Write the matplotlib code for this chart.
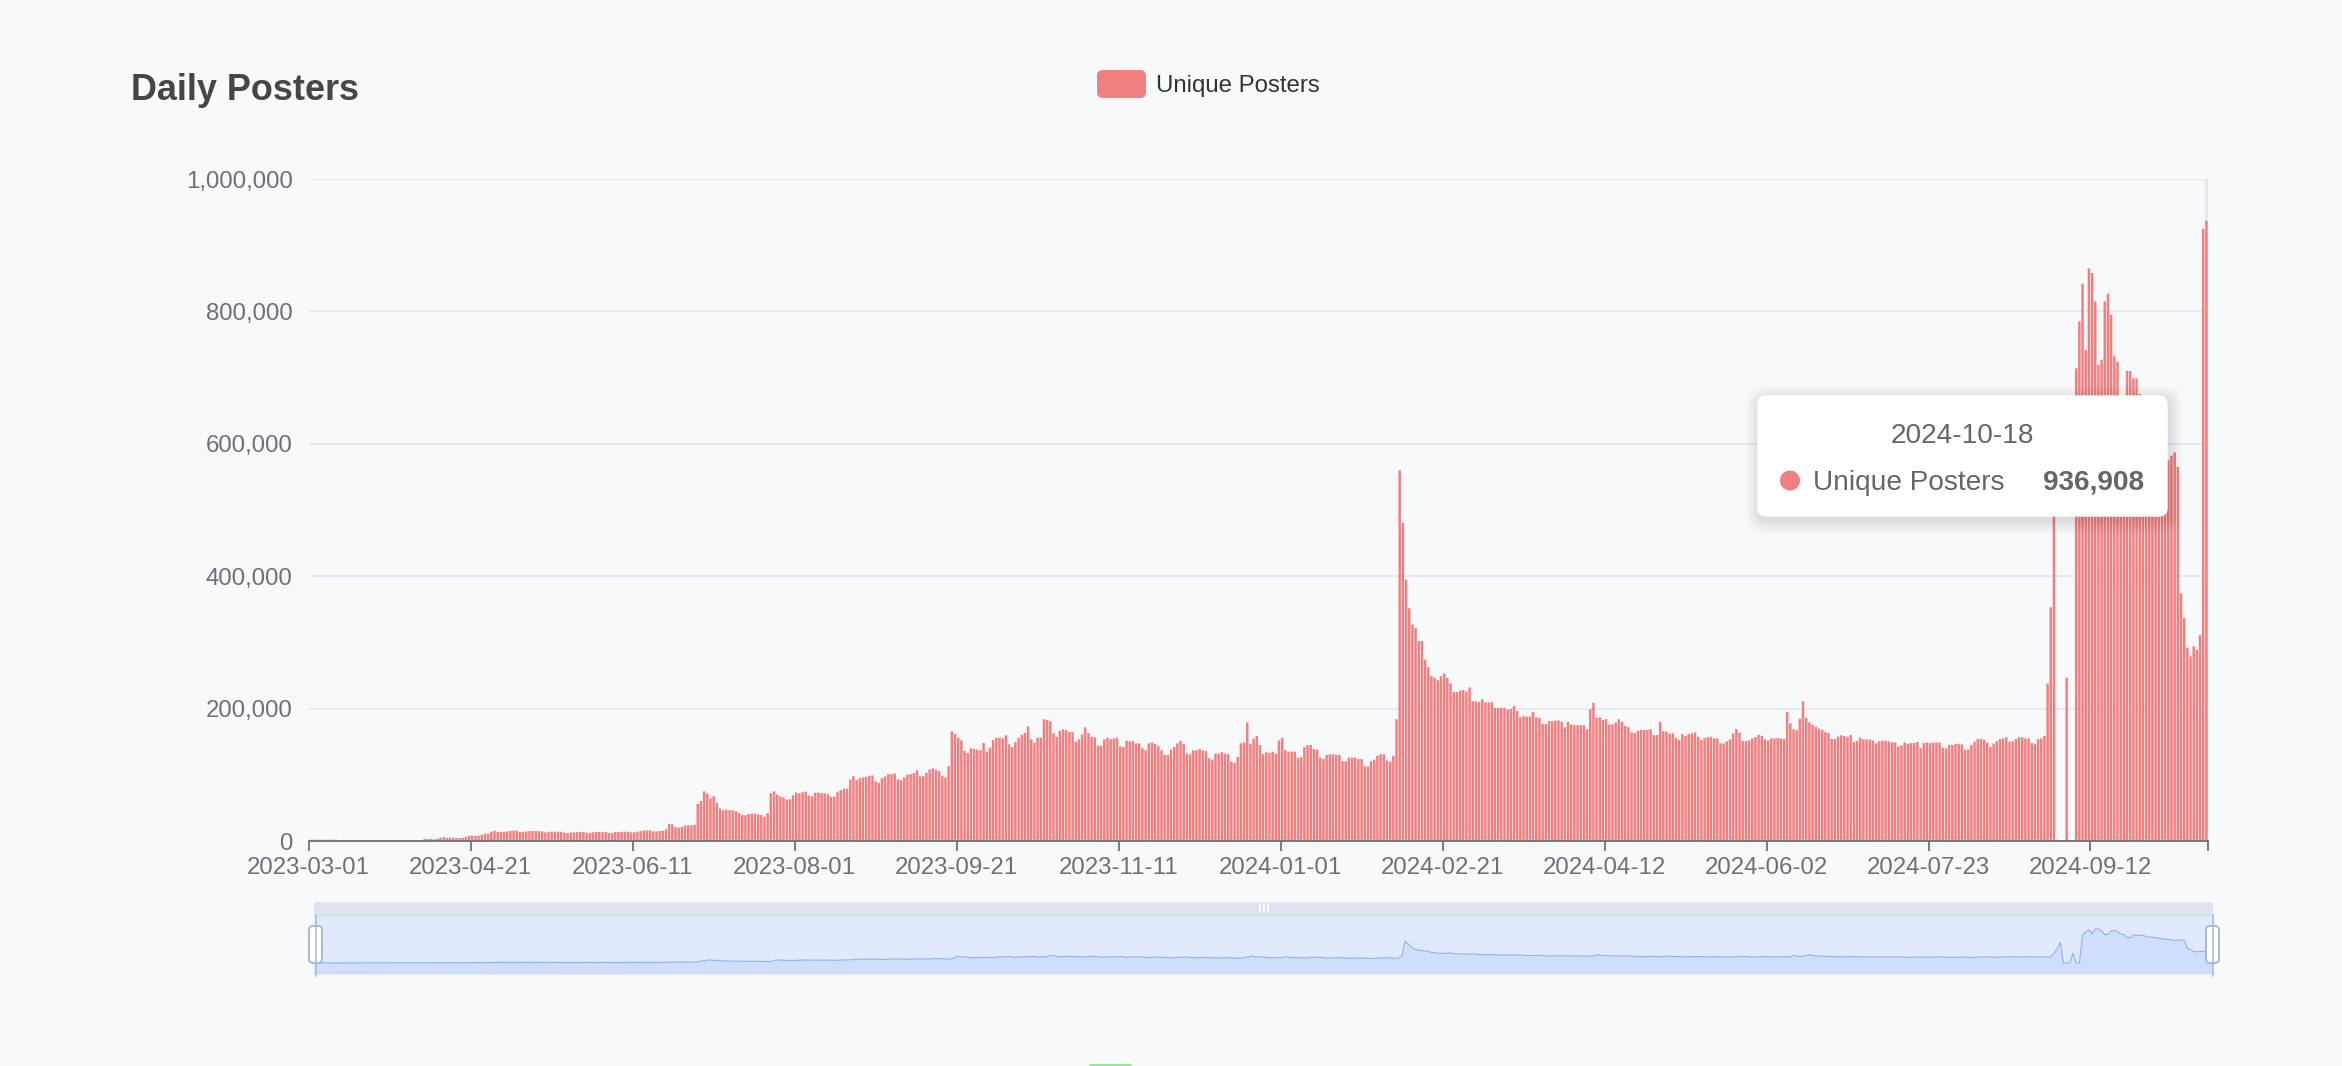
import numpy as np
import pandas as pd
import matplotlib
matplotlib.use('Agg')
import matplotlib.pyplot as plt
from matplotlib.patches import FancyBboxPatch, Rectangle, Circle

plt.rcParams['font.family'] = ['Liberation Sans', 'DejaVu Sans']

# =======================================================
# Data: unique posters per day, 2023-03-01 .. 2024-10-18
# one list per 51-day label interval
posters_0 = [2000, 2000, 2000, 2000, 2000, 2000, 2000, 2000, 2000, 1500,
             1500, 1500, 1500, 1500, 1500, 1500, 1500, 1500, 1500, 1500,
             1500, 1500, 1500, 1500, 1500, 1500, 1500, 1500, 1500, 1500,
             1500, 1500, 1500, 1500, 1500, 1500, 3500, 3000, 3000, 2500,
             3500, 5000, 6000, 5000, 5000, 5000, 4500, 4500, 5000, 6500,
             8000]
posters_1 = [8000, 8000, 8000, 9500, 11000, 11000, 14000, 15600, 14000, 13600,
             14000, 14500, 15000, 15600, 15600, 13600, 13600, 14500, 15000, 15000,
             15000, 15000, 14500, 13000, 14000, 14000, 14000, 14000, 14000, 12500,
             12000, 13000, 13000, 13600, 13600, 13600, 12500, 12500, 13000, 13600,
             13600, 13600, 13600, 12000, 12000, 13600, 13600, 14000, 14000, 14000,
             13000]
posters_2 = [13000, 14000, 15000, 16000, 16000, 16000, 14500, 14500, 15000, 15600,
             17600, 25700, 25000, 21000, 20000, 21500, 23600, 23600, 23600, 24700,
             56000, 60600, 75000, 71700, 64600, 67700, 57600, 49000, 46500, 47500,
             46500, 46500, 45000, 42400, 39400, 38900, 40900, 40900, 41400, 40000,
             39400, 36900, 41900, 72200, 75000, 70000, 67000, 66000, 62600, 63000,
             69000]
posters_3 = [73000, 72000, 73700, 74700, 68700, 67700, 73000, 73000, 72500, 72000,
             71000, 66700, 67000, 73700, 76800, 79000, 79000, 93000, 98000, 92000,
             95000, 96000, 97000, 98500, 99000, 90000, 88000, 95000, 97500, 101000,
             101000, 102000, 93000, 92000, 96000, 100000, 101000, 102500, 107000, 98000,
             98000, 103000, 108000, 109600, 108000, 105500, 98000, 96000, 113000, 165600,
             161600]
posters_4 = [156000, 152000, 136000, 133000, 140000, 139000, 138000, 137000, 148000, 135000,
             141000, 152500, 156000, 156000, 155000, 159600, 146000, 142000, 149500, 155500,
             160600, 163600, 173000, 153500, 148000, 156000, 156000, 184000, 183000, 181000,
             163000, 157500, 166600, 168700, 167700, 164600, 164600, 150000, 153500, 161000,
             171700, 163000, 157500, 156500, 144000, 144000, 153500, 156000, 154000, 155000,
             156000]
posters_5 = [143000, 142000, 151500, 150500, 151000, 147500, 147500, 140000, 137000, 147500,
             149000, 146500, 143400, 137000, 130000, 130000, 138000, 142000, 147500, 151500,
             146500, 132000, 131000, 137000, 137000, 139000, 137000, 136000, 125000, 122700,
             132000, 132000, 134000, 132000, 131000, 120000, 118000, 127000, 147500, 149000,
             179000, 146500, 154500, 158600, 145000, 131000, 134000, 133000, 135000, 132000,
             152000]
posters_6 = [155500, 137000, 135000, 135000, 135000, 125700, 126800, 142000, 145000, 145000,
             139000, 138000, 126000, 123700, 130000, 131000, 131000, 130000, 130000, 120700,
             120700, 126000, 126000, 125700, 123700, 123700, 113000, 112600, 120700, 123000,
             128800, 131000, 131000, 121700, 119700, 128800, 184000, 560000, 480800, 395000,
             351500, 327000, 321700, 302000, 302000, 274000, 262600, 249000, 246400, 243000,
             249000]
posters_7 = [253000, 246000, 238000, 225000, 225000, 227000, 228000, 225700, 232000, 211000,
             211000, 210000, 214000, 209600, 209600, 209600, 201000, 201000, 201000, 201000,
             198500, 199500, 204000, 196400, 187000, 189000, 188000, 188000, 195000, 187000,
             186000, 177000, 176700, 181000, 181000, 182000, 182000, 180000, 172000, 180000,
             176000, 175000, 175000, 175000, 175000, 169000, 199000, 209000, 186000, 187000,
             183000]
posters_8 = [184000, 176000, 176000, 179000, 184000, 180000, 174000, 172000, 164000, 163000,
             166600, 168000, 167700, 167700, 169000, 160000, 160000, 180000, 166000, 165000,
             162000, 162600, 155500, 153000, 161600, 158600, 161600, 162600, 164000, 157600,
             152500, 155500, 157000, 157600, 155000, 155000, 147500, 147500, 150500, 153500,
             162600, 169000, 163600, 151000, 151000, 152000, 155000, 157000, 160600, 159000,
             153500]
posters_9 = [152000, 155000, 155000, 155500, 155000, 154000, 195000, 177800, 168700, 167700,
             184800, 211000, 186000, 179000, 175700, 172700, 169700, 167700, 164600, 163000,
             154000, 154000, 157600, 159600, 158600, 157600, 160000, 149500, 151500, 156000,
             153500, 153500, 153500, 152000, 147500, 150500, 151500, 151500, 150500, 149000,
             149000, 142400, 144400, 149000, 147000, 148000, 148000, 149500, 140000, 148000,
             148700]
posters_10 = [148000, 148700, 148700, 148700, 140700, 140000, 145000, 145000, 146700, 146700,
              146000, 138000, 138000, 145000, 150000, 154000, 154000, 153000, 148700, 142000,
              147000, 151000, 154000, 155000, 156700, 150000, 150700, 154000, 156700, 156700,
              155000, 155000, 148000, 147000, 154000, 155000, 159000, 238000, 353000, 520000,
              2000, 0, 0, 246700, 0, 0, 714000, 785000, 842000, 742000,
              865000]
posters_11 = [858000, 815000, 719000, 727000, 815000, 827000, 795000, 733000, 724000, 650000,
              640000, 710000, 710000, 699000, 699000, 675000, 660000, 650000, 640000, 625000,
              615000, 605000, 595000, 585000, 575000, 582000, 587000, 565000, 374000, 337000,
              292000, 279000, 294000, 289000, 311000, 925000, 936908]

tick_dates = ['2023-03-01', '2023-04-21', '2023-06-11', '2023-08-01', '2023-09-21',
              '2023-11-11', '2024-01-01', '2024-02-21', '2024-04-12', '2024-06-02',
              '2024-07-23', '2024-09-12']
y_ticks = [0, 200000, 400000, 600000, 800000, 1000000]

posters = np.array(posters_0 + posters_1 + posters_2 + posters_3 + posters_4 + posters_5
                   + posters_6 + posters_7 + posters_8 + posters_9 + posters_10 + posters_11)
dates = pd.date_range('2023-03-01', '2024-10-18', freq='D').strftime('%Y-%m-%d').tolist()
assert len(dates) == len(posters)
idx = np.arange(len(posters))

# =======================================================
# Figure in pixel units
W, H = 2342, 1066
bg = '#f8f9fb'
fig = plt.figure(figsize=(W / 100, H / 100), dpi=100, facecolor=bg)

px_l, px_r, px_t, px_b = 308.7, 2208.0, 179.0, 841.0
ax = fig.add_axes([px_l / W, 1 - px_b / H, (px_r - px_l) / W, (px_b - px_t) / H], zorder=1)
ax.set_facecolor('none')
bars = ax.bar(idx, posters, width=0.78, color='#f08080', linewidth=0, zorder=2)
for b in bars:
    b.set_snap(False)
# axis pointer of the hovered day
ax.axvline(idx[-1], color='#e3e7ef', lw=2, zorder=0.8)

ax.set_xlim(-0.5, len(posters) - 0.5)
ax.set_ylim(0, 1000000)
tick_pos = [dates.index(d) - 0.5 for d in tick_dates] + [len(posters) - 0.5]
ax.set_xticks(tick_pos)
ax.set_xticklabels(tick_dates + [''])
ax.set_yticks(y_ticks)
ax.set_yticklabels(['{:,}'.format(v) for v in y_ticks])
ax.tick_params(axis='x', length=7.2, width=1.3, color='#6e7079', pad=4,
               labelsize=17.3, labelcolor='#6e7079')
ax.tick_params(axis='y', length=0, pad=11.5, labelsize=17.3, labelcolor='#6e7079')
ax.yaxis.grid(True, color='#e0e6f1', lw=1.2)
ax.set_axisbelow(True)
for s in ['top', 'right', 'left']:
    ax.spines[s].set_visible(False)
ax.spines['bottom'].set_color('#6e7079')
ax.spines['bottom'].set_linewidth(1.3)
ax.spines['bottom'].set_zorder(3)

# =======================================================
# Data zoom slider with data shadow
sl_l, sl_r, sl_t, sl_b = 314.0, 2213.0, 915.0, 974.0
sax = fig.add_axes([sl_l / W, 1 - sl_b / H, (sl_r - sl_l) / W, (sl_b - sl_t) / H], zorder=1)
sax.set_facecolor('#e1e9fc')
rng = posters.max() - posters.min()
sax.set_xlim(0, len(posters) - 1)
sax.set_ylim(posters.min() - 0.3 * rng, posters.max() + 0.3 * rng)
sax.fill_between(idx, posters.min() - 0.3 * rng, posters, color='#d1defb', lw=0)
sax.plot(idx, posters, color='#8fb0f7', lw=0.8)
sax.set_xticks([])
sax.set_yticks([])
for s in sax.spines.values():
    s.set_visible(False)

# =======================================================
# Overlay in pixel coordinates (title, legend, tooltip, slider handles)
ov = fig.add_axes([0, 0, 1, 1], zorder=10)
ov.set_xlim(0, W)
ov.set_ylim(H, 0)
ov.axis('off')
ov.patch.set_alpha(0)

ov.text(131, 100, 'Daily Posters', fontsize=25.9, fontweight='bold', color='#464646',
        ha='left', va='baseline')

ov.add_patch(FancyBboxPatch((1097, 70), 49, 28, boxstyle='round,pad=0,rounding_size=6',
                            fc='#f08080', ec='none'))
ov.text(1156, 92, 'Unique Posters', fontsize=17.3, color='#333333', ha='left', va='baseline')

# slider top bar and handles
ov.add_patch(FancyBboxPatch((sl_l, 902), sl_r - sl_l, 13, boxstyle='round,pad=0,rounding_size=3',
                            fc='#dde3f0', ec='none'))
ov.plot([sl_l, sl_r], [915, 915], color='#d2dbee', lw=1)
for gx in [1260, 1264, 1268]:
    ov.plot([gx, gx], [905, 911], color='#ffffff', lw=1.2)
for hx in [315.5, 2212.5]:
    ov.plot([hx, hx], [915, 976], color='#acb8d1', lw=1.1)
    ov.add_patch(FancyBboxPatch((hx - 6.5, 926), 13, 37, boxstyle='round,pad=0,rounding_size=4',
                                fc='#ffffff', ec='#acb8d1', lw=1.4))

# tooltip
tx0, ty0, tw, th = 1758, 396, 409, 120
for k in range(1, 15):
    ov.add_patch(FancyBboxPatch((tx0 + 2 - k, ty0 + 4 - k), tw + 2 * k, th + 2 * k,
                                boxstyle='round,pad=0,rounding_size=%d' % (8 + k),
                                fc='black', ec='none', alpha=0.009))
ov.add_patch(FancyBboxPatch((tx0, ty0), tw, th, boxstyle='round,pad=0,rounding_size=8',
                            fc='#ffffff', ec='#ffffff', lw=1))
ov.text(tx0 + tw / 2, 443, dates[-1], fontsize=20.2, color='#666666', ha='center', va='baseline')
ov.add_patch(Circle((1790, 480.5), 10, fc='#f08080', ec='none'))
ov.text(1813, 490, 'Unique Posters', fontsize=20.2, color='#666666', ha='left', va='baseline')
ov.text(2144, 490, '{:,}'.format(int(posters[-1])), fontsize=20.2, fontweight='bold',
        color='#666666', ha='right', va='baseline')

# partially visible button at the bottom edge
ov.add_patch(FancyBboxPatch((1088, 1064), 45, 20, boxstyle='round,pad=0,rounding_size=4',
                            fc='#90ee90', ec='none'))

fig.savefig('out.png', dpi=100, facecolor=bg)
